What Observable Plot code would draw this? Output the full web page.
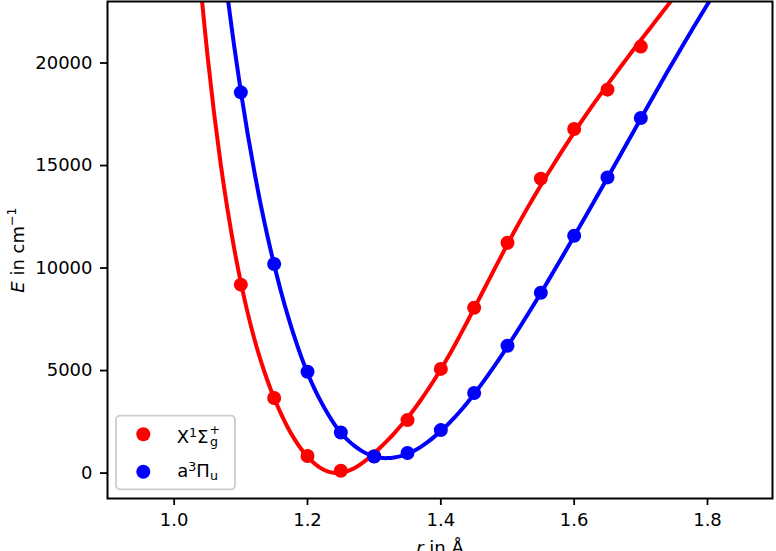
<!DOCTYPE html>
<html>
<head>
<meta charset="utf-8">
<script src="https://cdn.jsdelivr.net/npm/d3@7"></script>
<script src="https://cdn.jsdelivr.net/npm/@observablehq/plot@0.6"></script>
<style>
  html, body { margin: 0; padding: 0; background: #fff; }
  #chart { position: relative; width: 776px; height: 551px; overflow: hidden; }
  #chart svg { display: block; }
</style>
</head>
<body>
<div id="chart"></div>
<script>
// Bond lengths (Å) of the computed points
const rPoints = [1.10, 1.15, 1.20, 1.25, 1.30, 1.35, 1.40, 1.45, 1.50, 1.55, 1.60, 1.65, 1.70];
// X¹Σg⁺ energies (cm⁻¹)
const groundE = [9190, 3660, 830, 110, 820, 2585, 5080, 8060, 11230, 14360, 16780, 18700, 20800];
// a³Πu energies (cm⁻¹)
const tripletE = [18570, 10195, 4940, 1980, 810, 976, 2097, 3902, 6210, 8795, 11576, 14420, 17317];

// Fitted potential curve, X¹Σg⁺ (1.04 … 1.75 Å in 0.01 Å steps)
const groundFitR = d3.range(104, 176).map(v => v / 100);
const groundFitE = [
  23630, 20370, 17520, 15030, 12860, 10960, 9300, 7850, 6580, 5470,
  4505, 3660, 2910, 2250, 1680, 1200, 800, 480, 240, 85,
  10, 25, 100, 240, 440, 685, 965, 1270, 1595, 1940,
  2305, 2695, 3115, 3565, 4040, 4540, 5060, 5610, 6190, 6790,
  7405, 8030, 8660, 9292, 9922, 10547, 11165, 11770, 12360, 12935,
  13495, 14040, 14575, 15100, 15615, 16120, 16615, 17100, 17575, 18040,
  18495, 18943, 19388, 19828, 20263, 20693, 21118, 21538, 21958, 22378,
  22798, 23218];

// Fitted potential curve, a³Πu (1.08 … 1.81 Å in 0.01 Å steps)
const tripletFitR = d3.range(108, 182).map(v => v / 100);
const tripletFitE = [
  23270, 20830, 18610, 16590, 14750, 13070, 11550, 10160, 8885, 7725,
  6675, 5730, 4885, 4145, 3495, 2915, 2405, 1960, 1621, 1337,
  1107, 931, 810, 743, 730, 760, 830, 940, 1090, 1280,
  1505, 1765, 2060, 2360, 2690, 3050, 3440, 3855, 4290, 4740,
  5205, 5685, 6180, 6685, 7200, 7720, 8245, 8780, 9325, 9875,
  10430, 10990, 11555, 12120, 12688, 13258, 13830, 14403, 14978, 15555,
  16133, 16712, 17292, 17870, 18445, 19015, 19580, 20140, 20695, 21245,
  21790, 22330, 22865, 23395];

const xTicks = [1.0, 1.2, 1.4, 1.6, 1.8];
const yTicks = [0, 5000, 10000, 15000, 20000];

const RED = "#ff0000";
const BLUE = "#0000ff";
const FONT = "'DejaVu Sans', sans-serif";

const groundPts = rPoints.map((r, i) => ({r, E: groundE[i]}));
const tripletPts = rPoints.map((r, i) => ({r, E: tripletE[i]}));
const groundFit = groundFitR.map((r, i) => ({r, E: groundFitE[i]}));
const tripletFit = tripletFitR.map((r, i) => ({r, E: tripletFitE[i]}));

const chart = Plot.plot({
  width: 776,
  height: 551,
  marginLeft: 107,
  marginRight: 4,
  marginTop: 1,
  marginBottom: 53,
  style: {background: "#fff", fontFamily: FONT, fontSize: "18px", color: "#000", overflow: "visible"},
  x: {domain: [0.9, 1.8975]},
  y: {domain: [-1240, 23000]},
  marks: [
    Plot.line(groundFit, {x: "r", y: "E", stroke: RED, strokeWidth: 4, curve: "catmull-rom", clip: true}),
    Plot.line(tripletFit, {x: "r", y: "E", stroke: BLUE, strokeWidth: 4, curve: "catmull-rom", clip: true}),
    Plot.dot(groundPts, {x: "r", y: "E", r: 7, fill: RED}),
    Plot.dot(tripletPts, {x: "r", y: "E", r: 7, fill: BLUE}),
    Plot.axisX({ticks: xTicks, tickFormat: d3.format(".1f"), tickSize: 7, tickPadding: 8,
      strokeWidth: 1.8, label: null, fontSize: 18}),
    Plot.axisY({ticks: yTicks, tickFormat: d3.format("d"), tickSize: 7, tickPadding: 8,
      strokeWidth: 1.8, label: null, fontSize: 18}),
    Plot.frame({stroke: "#000", strokeWidth: 2})
  ]
});

document.getElementById("chart").appendChild(chart);

const svg = d3.select(chart);

// Axis titles with italic symbols
const yTitle = svg.append("text")
  .attr("transform", "translate(24,250) rotate(-90)")
  .attr("text-anchor", "middle")
  .attr("font-family", FONT).attr("font-size", 18).attr("fill", "#000");
yTitle.append("tspan").attr("font-style", "italic").text("E");
yTitle.append("tspan").text(" in cm");
yTitle.append("tspan").attr("font-size", 12.6).attr("dy", -8).text("\u22121");

const xTitle = svg.append("text")
  .attr("x", 440).attr("y", 554)
  .attr("text-anchor", "middle")
  .attr("font-family", FONT).attr("font-size", 18).attr("fill", "#000");
xTitle.append("tspan").attr("font-style", "italic").text("r");
xTitle.append("tspan").text(" in \u00c5");

// Legend box
const legend = svg.append("g")
  .attr("font-family", FONT).attr("fill", "#000").attr("text-anchor", "start");
legend.append("rect")
  .attr("x", 116).attr("y", 415.7).attr("width", 119).attr("height", 73.6).attr("rx", 4)
  .attr("fill", "#fff").attr("fill-opacity", 0.8)
  .attr("stroke", "#cccccc").attr("stroke-width", 1.8);
legend.append("circle").attr("cx", 143.3).attr("cy", 434.3).attr("r", 7).attr("fill", RED);
legend.append("circle").attr("cx", 143.3).attr("cy", 471.7).attr("r", 7).attr("fill", BLUE);

// X¹Σg⁺
const row1 = legend.append("text").attr("x", 176.7).attr("y", 442.6).attr("font-size", 18);
row1.append("tspan").text("X");
row1.append("tspan").attr("font-size", 12.6).attr("dy", -6).text("1");
row1.append("tspan").attr("dy", 6).text("\u03a3");
const w1 = row1.node().getComputedTextLength();
legend.append("text").attr("x", 176.7 + w1 + 1).attr("y", 442.6 - 9).attr("font-size", 12.6).text("+");
legend.append("text").attr("x", 176.7 + w1 + 1.5).attr("y", 442.6 + 3).attr("font-size", 12.6).text("g");

// a³Πu
const row2 = legend.append("text").attr("x", 177.3).attr("y", 476.7).attr("font-size", 18);
row2.append("tspan").text("a");
row2.append("tspan").attr("font-size", 12.6).attr("dy", -6).text("3");
row2.append("tspan").attr("dy", 6).text("\u03a0");
row2.append("tspan").attr("font-size", 12.6).attr("dy", 3).text("u");
</script>
</body>
</html>
